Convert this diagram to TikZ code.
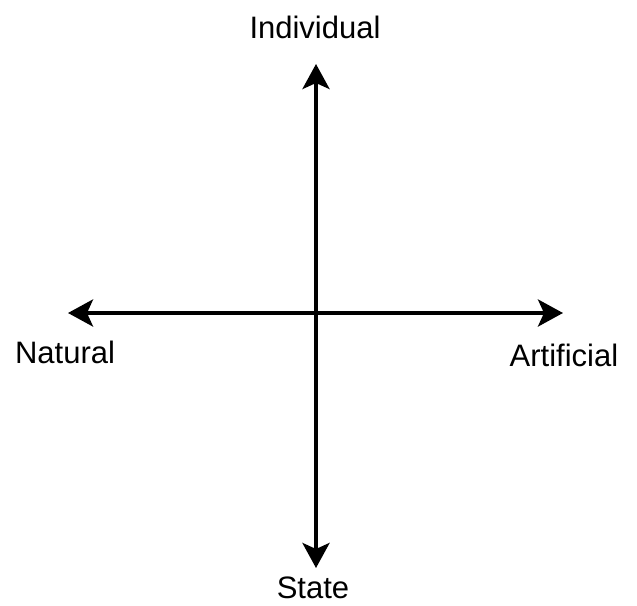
\documentclass[tikz,border=0pt]{standalone}
\usepackage{fontspec}
\setmainfont{Liberation Sans}
\usetikzlibrary{arrows.meta, positioning}

\begin{document}
\begin{tikzpicture}[
    x=1pt, y=-1pt,
    label/.style={font=\fontsize{31}{36}\selectfont, inner sep=0pt},
    axis/.style={{Stealth[length=25pt,width=27pt,inset=6pt]}-{Stealth[length=25pt,width=27pt,inset=6pt]}, line width=4pt, draw=black}
]
\useasboundingbox (0,0) rectangle (637,605);

% Axis ends
\coordinate (north) at (316,64);
\coordinate (south) at (316,568);
\coordinate (west) at (68,313);
\coordinate (east) at (563,313);

% Labels
\node (individual) [label] at (315,27) {Individual};
\node (state) [label] at (313,588) {State};
\node (natural) [label] at (65,352) {Natural};
\node (artificial) [label] at (564,355) {Artificial};

% Axes
\draw [axis] (south) -- (north);
\draw [axis] (west) -- (east);

\end{tikzpicture}
\end{document}
